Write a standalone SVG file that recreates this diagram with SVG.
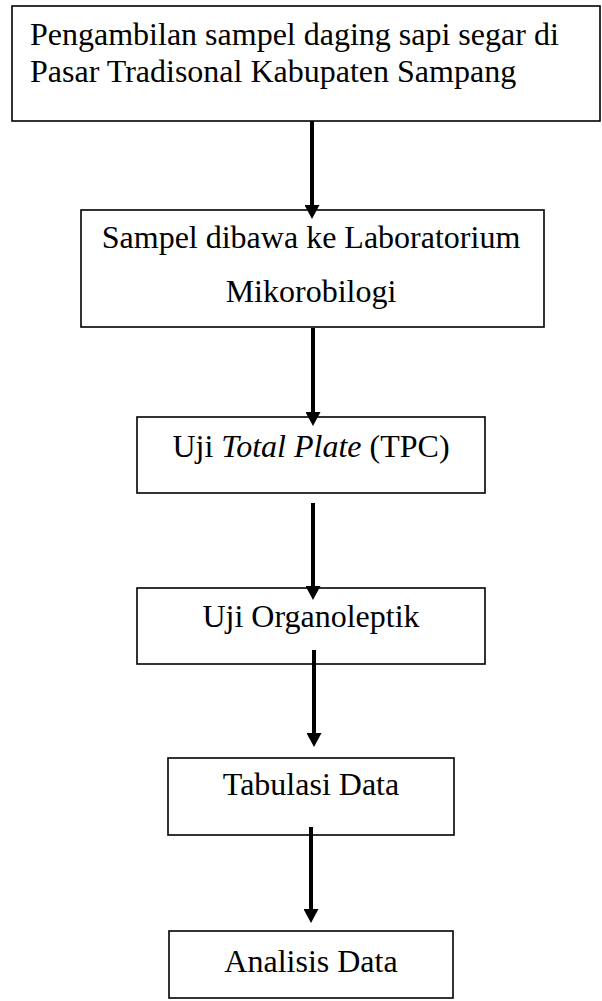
<svg xmlns="http://www.w3.org/2000/svg" width="602" height="1001" viewBox="0 0 602 1001">
<style>
.box{fill:#fff;stroke:#000;stroke-width:1.6}
.t{font-family:"Liberation Serif","Times New Roman",serif;font-size:32px;fill:#000}
.c{text-anchor:middle}
.arr{stroke:#000;stroke-width:4;fill:none}
</style>
<defs>
<marker id="ah" viewBox="0 0 14 15" refX="4" refY="7.5" markerWidth="14" markerHeight="15" markerUnits="userSpaceOnUse" orient="auto">
<path d="M0,0 L14,7.5 L0,15 z" fill="#000"/>
</marker>
</defs>
<rect width="602" height="1001" fill="#fff"/>
<g id="n1">
<rect class="box" x="12" y="6" width="588" height="115"/>
<text class="t" x="30" y="45">Pengambilan sampel daging sapi segar di</text>
<text class="t" x="30" y="82">Pasar Tradisonal Kabupaten Sampang</text>
</g>
<g id="n2">
<rect class="box" x="81" y="210" width="463" height="117"/>
<text class="t c" x="311" y="248">Sampel dibawa ke Laboratorium</text>
<text class="t c" x="311" y="302">Mikorobilogi</text>
</g>
<g id="n3">
<rect class="box" x="137" y="417" width="348" height="76"/>
<text class="t c" x="311" y="457">Uji <tspan font-style="italic">Total Plate</tspan> (TPC)</text>
</g>
<g id="n4">
<rect class="box" x="137" y="588" width="348" height="76"/>
<text class="t c" x="311" y="627">Uji Organoleptik</text>
</g>
<g id="n5">
<rect class="box" x="168" y="758" width="286" height="77"/>
<text class="t c" x="311" y="795">Tabulasi Data</text>
</g>
<g id="n6">
<rect class="box" x="169" y="931" width="284" height="67"/>
<text class="t c" x="311" y="972">Analisis Data</text>
</g>
<g id="connectors">
<line class="arr" x1="312" y1="121" x2="312" y2="209" marker-end="url(#ah)"/>
<line class="arr" x1="313" y1="328" x2="313" y2="416" marker-end="url(#ah)"/>
<line class="arr" x1="313" y1="503" x2="313" y2="590" marker-end="url(#ah)"/>
<line class="arr" x1="314" y1="650" x2="314" y2="737" marker-end="url(#ah)"/>
<line class="arr" x1="311" y1="827" x2="311" y2="913" marker-end="url(#ah)"/>
</g>
</svg>
